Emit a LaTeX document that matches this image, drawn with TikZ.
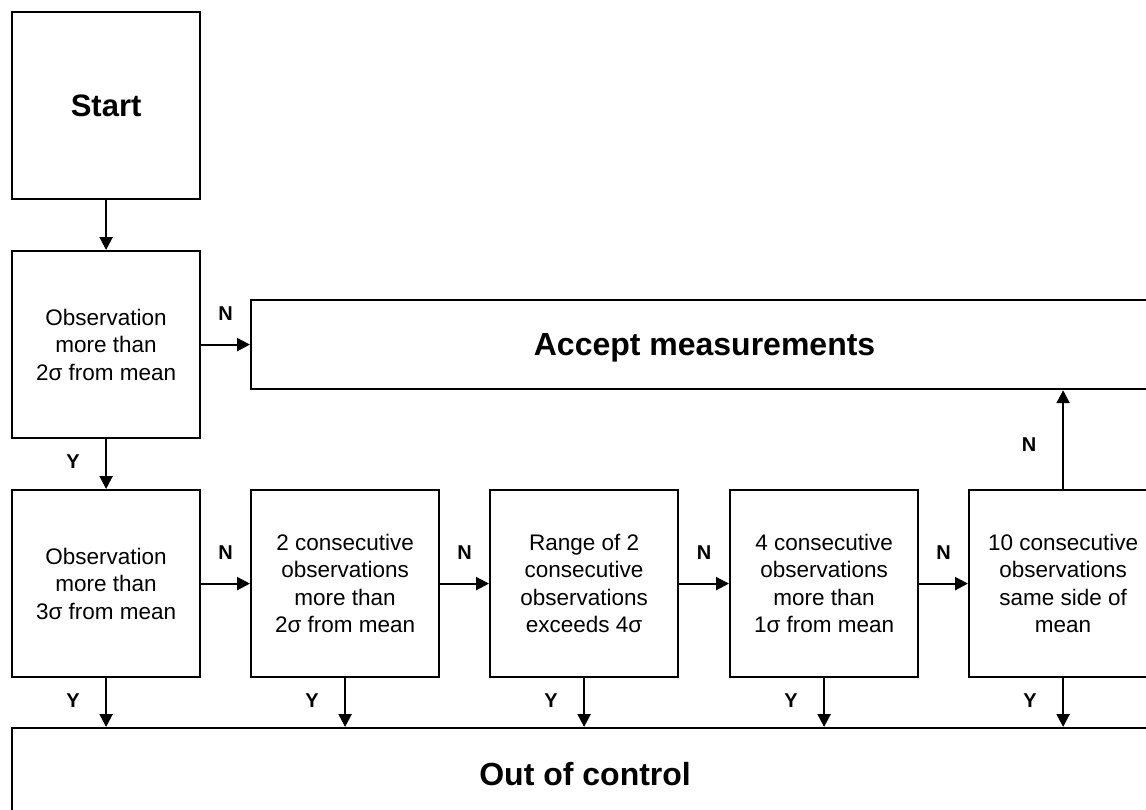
\documentclass[tikz,border=0pt]{standalone}
\usepackage{fontspec}
\setmainfont{Liberation Sans}
\usetikzlibrary{arrows.meta}
\begin{document}
\begin{tikzpicture}[x=1pt,y=-1pt,
  box/.style={draw,line width=2.2pt,minimum width=188pt,minimum height=187pt,inner sep=0pt,align=center,anchor=north west,font=\fontsize{22.5}{27.5}\selectfont},
  wide/.style={draw,line width=2.2pt,inner sep=0pt,text depth=0pt,anchor=north west,font=\fontsize{32}{36}\selectfont\bfseries},
  arr/.style={line width=2.2pt,-{Triangle[length=13pt,width=13pt]}},
  lab/.style={font=\fontsize{20}{24}\selectfont\bfseries,inner sep=0pt}]
\clip (0,0) rectangle (1146,809);
\fill[white] (0,0) rectangle (1146,809);
\node[box,font=\fontsize{31}{36}\selectfont\bfseries] (start) at (11,11) {Start};
\node[box] (obs2) at (11,250) {Observation\\more than\\2σ from mean};
\node[wide,minimum width=907pt,minimum height=89pt] (accept) at (250,299) {Accept measurements};
\node[box] (b1) at (11,489) {Observation\\more than\\3σ from mean};
\node[box] (b2) at (250,489) {2 consecutive\\observations\\more than\\2σ from mean};
\node[box] (b3) at (489,489) {Range of 2\\consecutive\\observations\\exceeds 4σ};
\node[box] (b4) at (729,489) {4 consecutive\\observations\\more than\\1σ from mean};
\node[box] (b5) at (968,489) {10 consecutive\\observations\\same side of\\mean};
\node[wide,minimum width=1146pt,minimum height=92pt] (out) at (11,727) {Out of control};
\draw[arr] (start.south) -- (obs2.north);
\draw[arr] (obs2.east) -- node[lab,yshift=31pt]{N} (accept.west);
\draw[arr] (obs2.south) -- node[lab,xshift=-33pt,yshift=2pt]{Y} (b1.north);
\draw[arr] (b1.east) -- node[lab,yshift=31pt]{N} (b2.west);
\draw[arr] (b2.east) -- node[lab,yshift=31pt]{N} (b3.west);
\draw[arr] (b3.east) -- node[lab,yshift=31pt]{N} (b4.west);
\draw[arr] (b4.east) -- node[lab,yshift=31pt]{N} (b5.west);
\draw[arr] (b5.north) -- node[lab,xshift=-34pt,yshift=-5pt]{N} (b5.north |- accept.south);
\foreach \b in {b1,b2,b3,b4,b5}{
  \draw[arr] (\b.south) -- node[lab,xshift=-33pt,yshift=2pt]{Y} (\b.south |- out.north);
}
\end{tikzpicture}
\end{document}
